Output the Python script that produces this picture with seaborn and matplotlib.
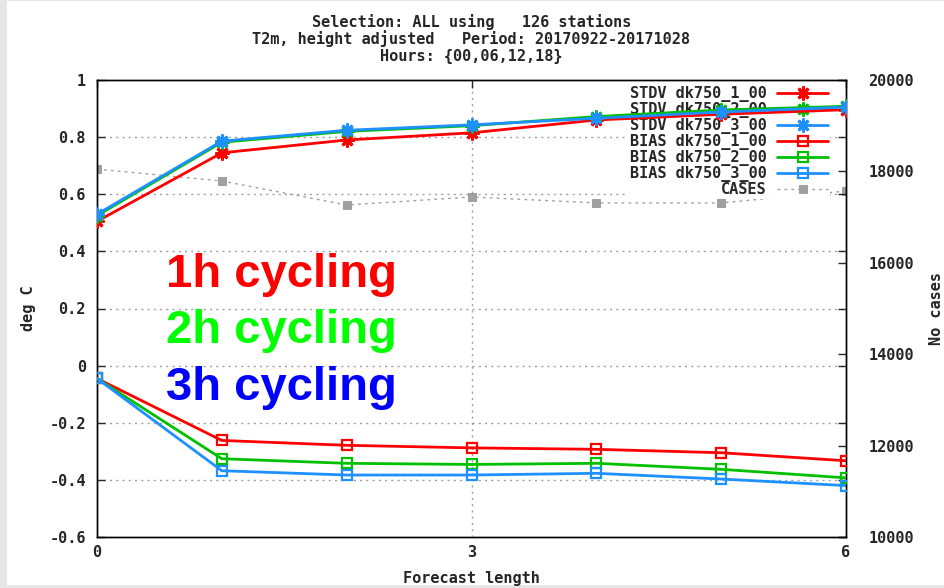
import numpy as np
import pandas as pd
import matplotlib
matplotlib.use("Agg")
import matplotlib.pyplot as plt
import seaborn as sns
from matplotlib.patches import Rectangle

# ---- data ----
lead = [0, 1, 2, 3, 4, 5, 6]
stdv_1 = [0.505, 0.745, 0.790, 0.815, 0.860, 0.880, 0.896]
stdv_2 = [0.525, 0.782, 0.820, 0.840, 0.872, 0.895, 0.908]
stdv_3 = [0.530, 0.786, 0.824, 0.843, 0.866, 0.888, 0.905]
bias_1 = [-0.045, -0.262, -0.279, -0.288, -0.293, -0.305, -0.333]
bias_2 = [-0.045, -0.326, -0.342, -0.346, -0.342, -0.363, -0.393]
bias_3 = [-0.045, -0.368, -0.383, -0.383, -0.377, -0.397, -0.420]
cases = [18050, 17790, 17265, 17440, 17310, 17310, 17570]
labels_stdv = ["STDV dk750_1_00", "STDV dk750_2_00", "STDV dk750_3_00"]
labels_bias = ["BIAS dk750_1_00", "BIAS dk750_2_00", "BIAS dk750_3_00"]
label_cases = "CASES"
title_lines = ["Selection: ALL using   126 stations",
               "T2m, height adjusted   Period: 20170922-20171028",
               "Hours: {00,06,12,18}"]
yticks_left = [-0.6, -0.4, -0.2, 0, 0.2, 0.4, 0.6, 0.8, 1]
yticks_right = [10000, 12000, 14000, 16000, 18000, 20000]
xticks = [0, 3, 6]
overlay = ["1h cycling", "2h cycling", "3h cycling"]

colors = ["#ff0000", "#00c000", "#1e90ff"]
overlay_colors = ["#ff0000", "#00ff00", "#0000ff"]
gray = "#a0a0a0"
mono = "DejaVu Sans Mono"

sns.set_style("white")
plt.rcParams["font.family"] = [mono]

fig = plt.figure(figsize=(9.44, 5.88), dpi=100)
fig.patch.set_facecolor("#e6e6e6")
bg = Rectangle((7 / 944, 3 / 588), 1, 1 - 4 / 588, transform=fig.transFigure,
               facecolor="white", edgecolor="none", zorder=-10)
fig.patches.append(bg)

ax = fig.add_axes([97 / 944, 51 / 588, 749 / 944, 457 / 588])
ax2 = ax.twinx()
ax.set_zorder(ax2.get_zorder() + 1)
ax.patch.set_visible(False)

# cases on right axis
sns.lineplot(x=lead, y=cases, ax=ax2, color=gray, lw=1, linestyle=(0, (2, 3)),
             marker="s", markersize=6, markeredgecolor=gray, legend=False)
ax2.set_ylim(10000, 20000)
ax2.set_yticks(yticks_right)
ax2.set_yticklabels([str(v) for v in yticks_right], fontsize=11, fontweight="bold")
ax2.tick_params(axis="y", direction="in", length=6, pad=16, width=1)
ax2.set_ylabel("No cases", fontsize=11, fontweight="bold", va="center")
ax2.yaxis.set_label_coords((936 - 97) / 749, 0.5)

handles = []
star = (8, 2, 0)
for vals, c, lab in zip([stdv_1, stdv_2, stdv_3], colors, labels_stdv):
    sns.lineplot(x=lead, y=vals, ax=ax, color=c, lw=2, marker=star,
                 markersize=10, markeredgewidth=2, markeredgecolor=c,
                 legend=False, zorder=3)
    handles.append(ax.lines[-1])
for vals, c, lab in zip([bias_1, bias_2, bias_3], colors, labels_bias):
    sns.lineplot(x=lead, y=vals, ax=ax, color=c, lw=2, marker="s",
                 markersize=7, markerfacecolor="none", markeredgewidth=1.6,
                 markeredgecolor=c, legend=False, zorder=3)
    handles.append(ax.lines[-1])
handles.append(ax2.lines[-1])

ax.set_xlim(0, 6)
ax.set_ylim(-0.6, 1)
ax.set_xticks(xticks)
ax.set_xticklabels([str(v) for v in xticks], fontsize=11, fontweight="bold")
ax.set_yticks(yticks_left)
ax.set_yticklabels([f"{v:g}" for v in yticks_left], fontsize=11, fontweight="bold")
ax.tick_params(axis="y", direction="in", length=6, pad=8, width=1,
               right=True)
ax.tick_params(axis="x", direction="in", length=6, pad=6, width=1, top=True)
ax.set_xlabel("Forecast length", fontsize=11, fontweight="bold")
ax.xaxis.set_label_coords(0.5, -0.075)
ax.set_ylabel("deg C", fontsize=11, fontweight="bold", va="center")
ax.yaxis.set_label_coords((28 - 97) / 749, 0.5)

for v in yticks_left[1:-1]:
    ax.axhline(v, color=gray, lw=1, linestyle=(0, (1.5, 3)), zorder=0.5)
ax.axvline(3, color=gray, lw=1, linestyle=(0, (1.5, 3)), zorder=0.5)

for a in (ax, ax2):
    for s in a.spines.values():
        s.set_color("black")
        s.set_linewidth(1)

leg = ax.legend(handles=handles, labels=labels_stdv + labels_bias + [label_cases],
                loc="upper right", bbox_to_anchor=(1.0 - 12 / 749, 1.0),
                markerfirst=False,
                frameon=True, facecolor="white", edgecolor="none", framealpha=1,
                prop={"family": mono, "weight": "bold", "size": 11},
                labelspacing=0.0, handlelength=3.3, handletextpad=0.7,
                borderaxespad=0.25, borderpad=0.15)
leg.set_zorder(1.5)

for txt, c, yv in zip(overlay, overlay_colors, [0.277, 0.08, -0.119]):
    ax.text(0.553, yv, txt, color=c, fontsize=34, fontweight="bold",
            family="Liberation Sans", ha="left", va="baseline", zorder=4)

for i, line in enumerate(title_lines):
    fig.text(471.5 / 944, 1 - (22 + 17 * i) / 588, line, ha="center", va="center",
             fontsize=11, fontweight="bold", family=mono)

fig.savefig("out.png", dpi=100, facecolor=fig.get_facecolor())
